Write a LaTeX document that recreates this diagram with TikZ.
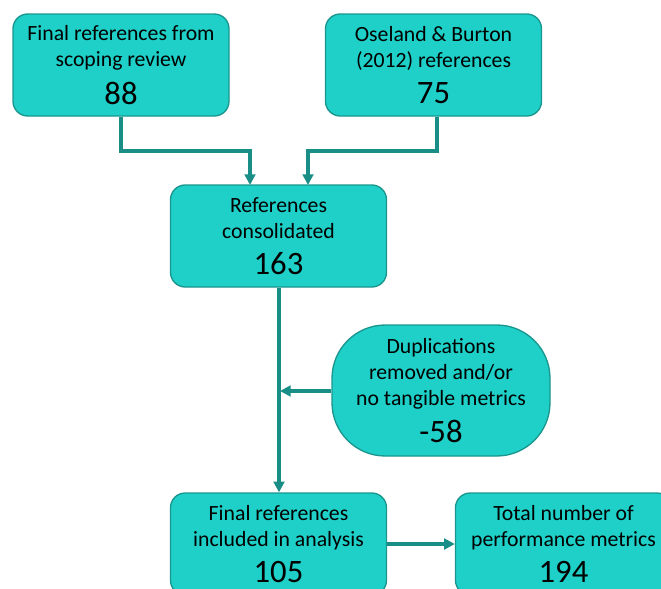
\documentclass[tikz,border=0pt]{standalone}
\usepackage{fontspec}
\setmainfont{Carlito}
\usetikzlibrary{arrows.meta}
\definecolor{boxfill}{RGB}{30,208,200}
\definecolor{boxline}{RGB}{26,150,143}
\definecolor{flow}{RGB}{24,142,134}
\tikzset{
  stepbox/.style={draw=boxline, line width=1pt, fill=boxfill, rounded corners=11pt,
    minimum width=216*0.75pt, minimum height=102*0.75pt, inner sep=0pt,
    align=center, font=\fontsize{16.3}{19.5}\selectfont},
  pillbox/.style={stepbox, rounded corners=40pt, minimum width=218*0.75pt, minimum height=131*0.75pt},
  flowline/.style={draw=flow, line width=2.3pt, -{Triangle[length=8pt,width=8pt]}},
}
\newcommand{\bignum}[1]{\\[7.5pt]{\fontsize{24.5}{24.5}\selectfont #1}}
\begin{document}
\begin{tikzpicture}[x=0.75pt, y=-0.75pt]
  \useasboundingbox (0,0) rectangle (661,589);
  \clip (0,0) rectangle (661,589);
  \node[stepbox] (scoping) at (121,65) {Final references from\\scoping review\bignum{88}};
  \node[stepbox] (oseland) at (433.5,65) {Oseland \& Burton\\(2012) references\bignum{75}};
  \node[stepbox] (consol) at (278.5,236) {References\\consolidated\bignum{163}};
  \node[pillbox] (dupl) at (441,390.5) {Duplications\\removed and/or\\no tangible metrics\bignum{-58}};
  \node[stepbox] (final) at (278.5,544) {Final references\\included in analysis\bignum{105}};
  \node[stepbox] (metrics) at (563.5,544) {Total number of\\performance metrics\bignum{194}};

  \coordinate (scopingbend) at (121,151);
  \coordinate (oselandbend) at (437,151);
  \draw[flowline] (scoping.south -| scopingbend) -- (scopingbend) -- (250,151) -- (250,185);
  \draw[flowline] (oseland.south -| oselandbend) -- (oselandbend) -- (308,151) -- (308,185);
  \draw[flowline] (consol.south -| 279,0) -- (final.north -| 279,0);
  \coordinate (join) at (280,391);
  \draw[flowline] (dupl.west |- join) -- (join);
  \draw[flowline] (final.east) -- (metrics.west);
\end{tikzpicture}
\end{document}
